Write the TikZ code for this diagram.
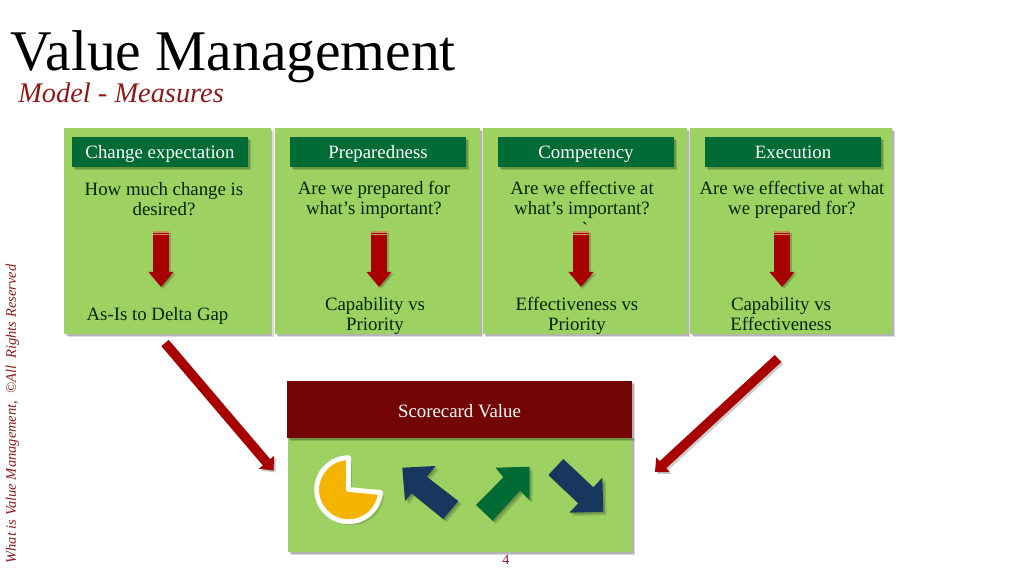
\documentclass[tikz,border=0pt]{standalone}
\usepackage{fontspec}
\setmainfont{Liberation Serif}
\usetikzlibrary{arrows.meta,calc,shadows}
\definecolor{panelgreen}{HTML}{9DD263}
\definecolor{headgreen}{HTML}{006B35}
\definecolor{scorered}{HTML}{720404}
\definecolor{arrowred}{HTML}{A80000}
\definecolor{stripetan}{HTML}{C8915A}
\definecolor{titlered}{HTML}{8E1A1A}
\definecolor{navyblue}{HTML}{17375E}
\definecolor{piegold}{HTML}{F5B400}
\tikzset{
	softshadow/.style={drop shadow={shadow xshift=2.4pt,shadow yshift=-2.4pt,opacity=.14,fill=black},
		drop shadow={shadow xshift=1.2pt,shadow yshift=-1.2pt,opacity=.18,fill=black}},
	panel/.style={fill=panelgreen,minimum height=5.15cm,inner sep=0pt,softshadow},
	headbox/.style={fill=headgreen,text=white,minimum width=4.4cm,minimum height=.75cm,inner sep=0pt,softshadow,text height=11pt,text depth=1.5pt,font=\fontsize{13.4}{15}\selectfont},
	bodytext/.style={align=center,text=black!85!green,inner sep=0pt,font=\fontsize{13.4}{14.6}\selectfont},
	smallarrow/.style={arrowred,line width=.4cm,-{Triangle[length=.375cm,width=.6cm]}},
	bigarrow/.style={arrowred,line width=.24cm,-{Triangle[length=.27cm,width=.48cm]}},
	arrowshade/.style={black,opacity=.2},
	stripe/.style={stripetan,line width=.9pt},
	tilearrow/.style={fill=#1,softshadow},
}
\def\blockarrow[#1](#2)(#3){\draw[#1,arrowshade] ($(#2)+(2,2)$) -- ($(#3)+(2,2)$); \draw[#1] (#2) -- (#3);}

\begin{document}
\begin{tikzpicture}[x=0.025cm,y=-0.025cm]
			%%%%% START %%%%%
			\useasboundingbox (0, 0) rectangle (1024, 576);
			
			\node[anchor=base west, inner sep=0pt, font=\fontsize{40.9}{44}\selectfont] (title) at (10, 71) {Value Management};
			\node[anchor=base west, inner sep=0pt, text=titlered, font=\itshape\fontsize{20.2}{22}\selectfont] (subtitle) at (18, 103) {Model - Measures};
			\node[rotate=90, inner sep=0pt, text=titlered, font=\itshape\fontsize{10.3}{12}\selectfont] (side) at (12.5, 414) {What is Value Management,\ \ ©All\ \ Rights Reserved};
			\node[inner sep=0pt, text=titlered, font=\fontsize{10}{12}\selectfont] (pageno) at (506, 560) {4};
			
			\node[panel, minimum width=5.15cm] (panelA) at (167.5, 231) {};
			\node[panel, minimum width=5.125cm] (panelB) at (377.5, 231) {};
			\node[panel, minimum width=5.1cm] (panelC) at (585, 231) {};
			\node[panel, minimum width=5.05cm] (panelD) at (791, 231) {};
			
			\node[headbox] (headA) at (160, 152) {Change expectation};
			\node[headbox] (headB) at (378, 152) {Preparedness};
			\node[headbox] (headC) at (586, 152) {Competency};
			\node[headbox] (headD) at (793, 152) {Execution};
			
			\node[bodytext] (askA) at (164, 199) {How much change is\\desired?};
			\node[bodytext] (askB) at (374, 200) {Are we prepared for\\what’s important?};
			\node[bodytext] (askC) at (582, 200) {Are we effective at\\what’s important?};
			\node[bodytext] (askD) at (792, 200) {Are we effective at what\\we prepared for?};
			\node[bodytext] (tick) at (585, 229) {\textasciigrave};
			
			\node[bodytext] (gapA) at (157.5, 316) {As-Is to Delta Gap};
			\node[bodytext] (gapB) at (375, 316) {Capability vs\\Priority};
			\node[bodytext] (gapC) at (577, 316) {Effectiveness vs\\Priority};
			\node[bodytext] (gapD) at (781, 314) {Capability vs\\Effectiveness};
			
			\coordinate (topA) at (161, 231);
			\coordinate (endA) at (161, 287);
			\coordinate (topB) at (379, 231);
			\coordinate (endB) at (379, 287);
			\coordinate (topC) at (581, 231);
			\coordinate (endC) at (581, 287);
			\coordinate (topD) at (782, 231);
			\coordinate (endD) at (782, 287);
			\blockarrow[smallarrow](topA)(endA);
			\blockarrow[smallarrow](topB)(endB);
			\blockarrow[smallarrow](topC)(endC);
			\blockarrow[smallarrow](topD)(endD);
			\draw[stripe] ($(topA)+(-8, 1)$) -- ($(topA)+(8, 1)$);
			\draw[stripe] ($(topA)+(-8, 3.5)$) -- ($(topA)+(8, 3.5)$);
			\draw[stripe] ($(topB)+(-8, 1)$) -- ($(topB)+(8, 1)$);
			\draw[stripe] ($(topB)+(-8, 3.5)$) -- ($(topB)+(8, 3.5)$);
			\draw[stripe] ($(topC)+(-8, 1)$) -- ($(topC)+(8, 1)$);
			\draw[stripe] ($(topC)+(-8, 3.5)$) -- ($(topC)+(8, 3.5)$);
			\draw[stripe] ($(topD)+(-8, 1)$) -- ($(topD)+(8, 1)$);
			\draw[stripe] ($(topD)+(-8, 3.5)$) -- ($(topD)+(8, 3.5)$);
			
			\node[fill=panelgreen, minimum width=8.6cm, minimum height=2.9cm, inner sep=0pt, softshadow] (scorebody) at (460, 494) {};
			\node[fill=scorered, text=white, minimum width=8.625cm, minimum height=1.425cm, inner sep=0pt, softshadow, text height=12.4pt, text depth=1.5pt, font=\fontsize{13.4}{15}\selectfont] (scorehead) at (459.5, 409.5) {Scorecard Value};
			
			\coordinate (leftstart) at (165, 343);
			\coordinate (lefttip) at (273.5, 470.5);
			\coordinate (rightstart) at (778, 358.5);
			\coordinate (righttip) at (655, 472);
			\blockarrow[bigarrow](leftstart)(lefttip);
			\blockarrow[bigarrow](rightstart)(righttip);
			
			\draw[fill=piegold, draw=white, line width=.12cm, line join=round, softshadow] (348.5, 489.5) -- (380.5, 492.5) arc (5:270:32) -- cycle;
			
			\path[tilearrow=navyblue] (402.3, 467.7) -- (435.7, 466) -- (426.7, 476.7) -- (458.3, 501) -- (443.3, 519) -- (411.7, 493.3) -- (405, 501) -- cycle;
			\path[tilearrow=headgreen] (529.3, 466.7) -- (529.3, 500) -- (520, 490.7) -- (492.7, 520.7) -- (476, 505) -- (503.3, 477.3) -- (495.7, 467.7) -- cycle;
			\path[tilearrow=navyblue] (603.3, 511.7) -- (569.3, 512.7) -- (578.3, 503.3) -- (548.3, 475) -- (563.3, 459) -- (593.3, 487.3) -- (602.3, 477.7) -- cycle;
			
			%%%%% END %%%%%
\end{tikzpicture}
\end{document}
